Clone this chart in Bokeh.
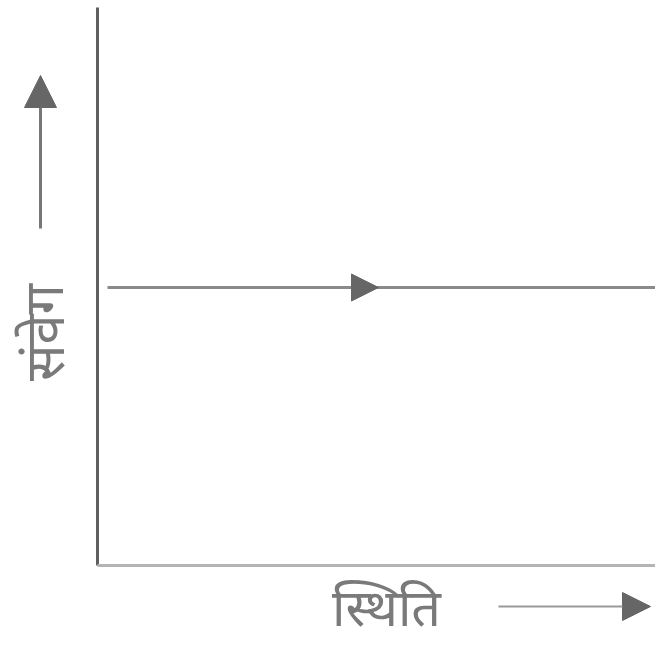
from bokeh.plotting import figure
from bokeh.models import Range1d, Arrow, NormalHead, Label
from bokeh.embed import file_html
from bokeh.resources import INLINE

# Diagram values (data units; origin at axes corner)
position = [10, 558]          # extent of the constant-momentum trajectory
momentum = [278, 278]         # constant momentum
axis_x = [0, 558]
axis_y = [0, 558]
x_label = "स्थिति"
y_label = "संवेग"

p = figure(width=655, height=646, output_backend="svg", toolbar_location=None,
           x_range=Range1d(-97, 558), y_range=Range1d(-81, 565),
           min_border=0, outline_line_color=None)
p.axis.visible = False
p.grid.visible = False
p.background_fill_color = "white"

# axes lines
p.line([0, 0], axis_y, line_color="#5f5f5f", line_width=3)
p.line(axis_x, [0, 0], line_color="#b4b4b4", line_width=3)

# trajectory
p.line(position, momentum, line_color="#8a8a8a", line_width=3)
mid_tip = 281
p.add_layout(Arrow(end=NormalHead(size=27, fill_color="#666666", line_color="#666666"),
                   x_start=position[0], y_start=momentum[0], x_end=mid_tip, y_end=momentum[0],
                   line_alpha=0))

# label arrows
p.add_layout(Arrow(end=NormalHead(size=32, fill_color="#666666", line_color="#666666"),
                   x_start=-57, y_start=337, x_end=-57, y_end=490,
                   line_color="#777777", line_width=3))
p.add_layout(Arrow(end=NormalHead(size=28, fill_color="#666666", line_color="#666666"),
                   x_start=401, y_start=-41, x_end=553, y_end=-41,
                   line_color="#999999", line_width=2))

p.add_layout(Label(x=289, y=-40, text=x_label, text_font="Noto Sans", text_font_size="52px",
                   text_color="#7a7a7a", text_align="center", text_baseline="middle"))
p.add_layout(Label(x=-55, y=233, text=y_label, text_font="Noto Sans", text_font_size="54px",
                   text_color="#7a7a7a", text_align="center", text_baseline="middle",
                   angle=1.5708))

open("out.html", "w").write(file_html(p, INLINE))
